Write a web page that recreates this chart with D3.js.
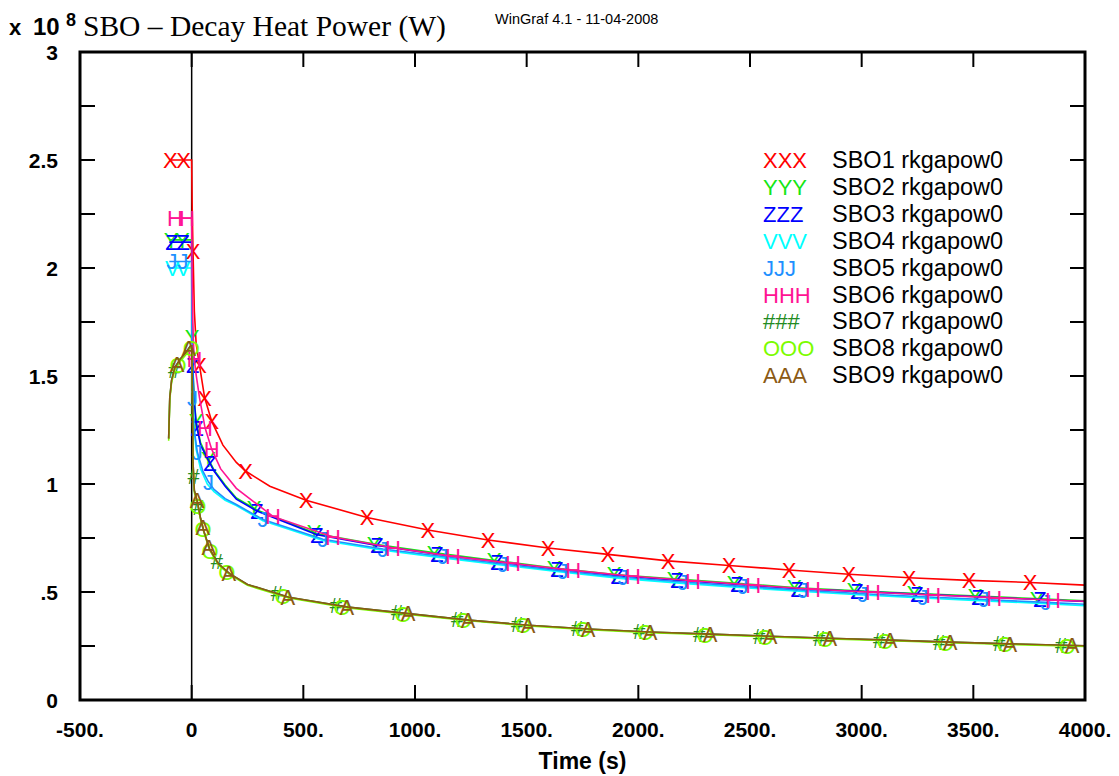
<!DOCTYPE html>
<html>
<head>
<meta charset="utf-8">
<script src="https://cdn.jsdelivr.net/npm/d3@7"></script>
<style>
  body { margin: 0; background: #fff; }
  svg { display: block; }
  .tick-label { font-family: "Liberation Sans", Arial, sans-serif; font-weight: bold; font-size: 21px; }
  .legend text { font-family: "Liberation Sans", Arial, sans-serif; font-size: 23.5px; }
  .legend text.glyph { font-size: 22px; }
  .mark { font-family: "Liberation Sans", Arial, sans-serif; font-size: 22px; }
</style>
</head>
<body>
<div id="chart"></div>
<script>
// series names, glyphs and colours
const seriesNames = ["SBO1 rkgapow0", "SBO2 rkgapow0", "SBO3 rkgapow0", "SBO4 rkgapow0", "SBO5 rkgapow0",
                     "SBO6 rkgapow0", "SBO7 rkgapow0", "SBO8 rkgapow0", "SBO9 rkgapow0"];
const seriesGlyphs = ["X", "Y", "Z", "V", "J", "H", "#", "O", "A"];
const seriesColors = ["#ff0000", "#14e614", "#0000ff", "#00ffff", "#1e90ff", "#ff1493", "#228b22", "#7cfc00", "#8b5a14"];

// [time (s), power (x 1e8 W)]
const sbo1 = [[-100,2.5],[0,2.5],[2,2.3],[6,2.08],[12,1.8],[20,1.65],[35,1.55],[58,1.4],[90,1.29],[140,1.18],[200,1.1],
  [241,1.06],[350,0.99],[512,0.925],[785,0.845],[1058,0.787],[1327,0.741],[1596,0.704],[1864,0.674],[2133,0.644],
  [2406,0.623],[2675,0.602],[2943,0.582],[3212,0.566],[3481,0.554],[3754,0.544],[4000,0.532]];
const sbo2 = [[-100,2.13],[0,2.13],[2,1.68],[5,1.56],[10,1.41],[20,1.29],[40,1.19],[70,1.125],[100,1.065],[150,0.995],
  [200,0.935],[292,0.88],[561,0.77],[830,0.72],[1098,0.68],[1367,0.645],[1636,0.61],[1905,0.58],[2173,0.56],
  [2442,0.54],[2711,0.52],[2979,0.506],[3248,0.493],[3521,0.481],[3798,0.468],[4000,0.459]];
const sbo3 = [[-100,2.12],[0,2.12],[2,1.85],[5,1.55],[10,1.4],[20,1.28],[40,1.18],[70,1.12],[100,1.06],[150,0.99],
  [200,0.93],[292,0.875],[561,0.765],[830,0.715],[1098,0.675],[1367,0.64],[1636,0.605],[1905,0.575],[2173,0.555],
  [2442,0.535],[2711,0.515],[2979,0.503],[3248,0.49],[3521,0.478],[3798,0.465],[4000,0.456]];
const sbo4 = [[-100,2.0],[0,2.0],[2,1.7],[5,1.42],[10,1.27],[20,1.16],[40,1.07],[70,1.0],[100,0.965],[150,0.925],
  [200,0.9],[319,0.83],[588,0.738],[857,0.693],[1125,0.658],[1394,0.624],[1663,0.592],[1932,0.562],[2200,0.54],
  [2469,0.52],[2738,0.502],[3006,0.486],[3275,0.472],[3548,0.459],[3825,0.446],[4000,0.436]];
const sbo5 = [[-100,2.03],[0,2.03],[2,1.6],[4,1.4],[10,1.26],[25,1.15],[50,1.06],[75,1.01],[100,0.975],[150,0.932],
  [200,0.905],[319,0.836],[588,0.744],[857,0.699],[1125,0.664],[1394,0.63],[1663,0.598],[1932,0.568],[2200,0.546],
  [2469,0.526],[2738,0.508],[3006,0.492],[3275,0.478],[3548,0.465],[3825,0.452],[4000,0.443]];
const sbo6 = [[-100,2.23],[0,2.23],[2,2.0],[5,1.75],[10,1.6],[18,1.52],[35,1.4],[60,1.26],[90,1.16],[130,1.07],
  [200,0.98],[364,0.85],[633,0.755],[901,0.705],[1170,0.665],[1439,0.632],[1708,0.6],[1976,0.573],[2245,0.552],
  [2514,0.532],[2782,0.513],[3051,0.499],[3320,0.486],[3593,0.474],[3870,0.462],[4000,0.457]];
const sbo7 = [[-103,1.21],[-98,1.4],[-90,1.48],[-75,1.54],[-50,1.58],[-25,1.61],[-5,1.64],[0,1.64],[3,1.45],[6,1.1],
  [12,0.97],[25,0.92],[40,0.84],[55,0.78],[80,0.7],[120,0.63],[170,0.585],[250,0.535],[435,0.476],[700,0.43],
  [970,0.4],[1240,0.37],[1510,0.346],[1775,0.329],[2050,0.315],[2320,0.305],[2590,0.295],[2855,0.286],
  [3125,0.277],[3395,0.268],[3660,0.26],[4000,0.251]];
const sbo8 = [[-103,1.2],[-98,1.39],[-90,1.47],[-75,1.53],[-50,1.57],[-25,1.6],[-5,1.63],[0,1.63],[3,1.44],[6,1.09],
  [12,0.96],[25,0.915],[40,0.835],[55,0.775],[80,0.695],[120,0.625],[170,0.58],[250,0.531],[435,0.472],[700,0.426],
  [970,0.396],[1240,0.367],[1510,0.343],[1775,0.326],[2050,0.312],[2320,0.302],[2590,0.292],[2855,0.283],
  [3125,0.274],[3395,0.265],[3660,0.257],[4000,0.248]];
const sbo9 = [[-103,1.21],[-98,1.4],[-90,1.48],[-75,1.54],[-50,1.58],[-25,1.61],[-5,1.64],[0,1.64],[3,1.45],[6,1.1],
  [12,0.97],[25,0.92],[40,0.84],[55,0.78],[80,0.7],[120,0.63],[170,0.585],[250,0.535],[435,0.476],[700,0.43],
  [970,0.4],[1240,0.37],[1510,0.346],[1775,0.329],[2050,0.315],[2320,0.305],[2590,0.295],[2855,0.286],
  [3125,0.277],[3395,0.268],[3660,0.26],[4000,0.251]];

// times where each series draws its glyph
const sbo1Marks = [-95,-36,6,35,58,90,241,512,785,1058,1327,1596,1864,2133,2406,2675,2943,3212,3481,3754];
const sbo2Marks = [-92,-42,2,20,75,279,548,817,1085,1354,1623,1892,2160,2429,2698,2966,3235,3508,3785];
const sbo3Marks = [-88,-38,5,24,82,292,561,830,1098,1367,1636,1905,2173,2442,2711,2979,3248,3521,3798];
const sbo4Marks = [-86,-38];
const sbo5Marks = [-88,-39,4,25,75,319,588,857,1125,1394,1663,1932,2200,2469,2738,3006,3275,3548,3825];
const sbo6Marks = [-75,-21,12,60,90,364,633,901,1170,1439,1708,1976,2245,2514,2782,3051,3320,3593,3857];
const sbo7Marks = [-78,9,30,113,382,646,920,1189,1457,1726,2004,2272,2541,2809,3078,3347,3615,3893];
const sbo8Marks = [-61,-2,28,51,82,157,409,673,947,1216,1484,1753,2031,2299,2568,2836,3105,3374,3642,3920];
const sbo9Marks = [-65,-13,24,50,77,167,431,695,969,1238,1506,1775,2053,2321,2590,2858,3127,3396,3664,3942];

const seriesData = [sbo1, sbo2, sbo3, sbo4, sbo5, sbo6, sbo7, sbo8, sbo9];
const seriesMarks = [sbo1Marks, sbo2Marks, sbo3Marks, sbo4Marks, sbo5Marks, sbo6Marks, sbo7Marks, sbo8Marks, sbo9Marks];

// axes
const xTicks = [-500, 0, 500, 1000, 1500, 2000, 2500, 3000, 3500, 4000];
const xTickLabels = ["-500.", "0", "500.", "1000.", "1500.", "2000.", "2500.", "3000.", "3500.", "4000."];
const yTicks = [0, 0.5, 1, 1.5, 2, 2.5, 3];
const yTickLabels = ["0", ".5", "1", "1.5", "2", "2.5", "3"];
const yMinorTicks = d3.range(0.25, 3, 0.25);

const width = 1119, height = 776;
const margin = { top: 52, right: 34, bottom: 76, left: 80 };
const innerW = width - margin.left - margin.right;
const innerH = height - margin.top - margin.bottom;

const svg = d3.select("#chart").append("svg")
  .attr("width", width)
  .attr("height", height);

const xScale = d3.scaleLinear().domain([-500, 4000]).range([0, innerW]);
const yScale = d3.scaleLinear().domain([0, 3]).range([innerH, 0]);

const g = svg.append("g").attr("transform", `translate(${margin.left},${margin.top})`);

// tick marks (inward on all four sides)
const tickLen = 15;
const axisG = g.append("g").attr("stroke", "#000").attr("stroke-width", 2);
xTicks.slice(1, -1).forEach(t => {
  axisG.append("line").attr("x1", xScale(t)).attr("x2", xScale(t)).attr("y1", innerH).attr("y2", innerH - tickLen);
  axisG.append("line").attr("x1", xScale(t)).attr("x2", xScale(t)).attr("y1", 0).attr("y2", tickLen);
});
yMinorTicks.forEach(v => {
  axisG.append("line").attr("x1", 0).attr("x2", tickLen).attr("y1", yScale(v)).attr("y2", yScale(v));
  axisG.append("line").attr("x1", innerW).attr("x2", innerW - tickLen).attr("y1", yScale(v)).attr("y2", yScale(v));
});

// t = 0 line
g.append("line")
  .attr("x1", xScale(0)).attr("x2", xScale(0))
  .attr("y1", 0).attr("y2", innerH)
  .attr("stroke", "#000").attr("stroke-width", 1.5);

// tick labels
g.selectAll(".xlab").data(xTicks).join("text")
  .attr("class", "tick-label xlab")
  .attr("x", d => xScale(d))
  .attr("y", innerH + 37)
  .attr("text-anchor", "middle")
  .text((d, i) => xTickLabels[i]);

g.selectAll(".ylab").data(yTicks).join("text")
  .attr("class", "tick-label ylab")
  .attr("x", -22)
  .attr("y", d => yScale(d))
  .attr("dy", "0.36em")
  .attr("text-anchor", "end")
  .text((d, i) => yTickLabels[i]);

// curves and glyph markers
const line = d3.line().x(d => xScale(d[0])).y(d => yScale(d[1]));
const plot = g.append("g");

seriesData.forEach((data, i) => {
  const sg = plot.append("g");
  sg.append("path")
    .datum(data)
    .attr("fill", "none")
    .attr("stroke", seriesColors[i])
    .attr("stroke-width", 1.6)
    .attr("d", line);

  const along = d3.scaleLinear().domain(data.map(d => d[0])).range(data.map(d => d[1]));
  sg.selectAll("text").data(seriesMarks[i]).join("text")
    .attr("class", "mark")
    .attr("x", d => xScale(d))
    .attr("y", d => yScale(along(d)))
    .attr("dy", "0.36em")
    .attr("text-anchor", "middle")
    .attr("fill", seriesColors[i])
    .text(seriesGlyphs[i]);
});

// frame
g.append("rect")
  .attr("width", innerW).attr("height", innerH)
  .attr("fill", "none").attr("stroke", "#000").attr("stroke-width", 3);

// legend
const legend = svg.append("g").attr("class", "legend");
seriesNames.forEach((name, i) => {
  const y = 168 + i * 26.9;
  legend.append("text").attr("class", "glyph").attr("x", 763).attr("y", y).attr("fill", seriesColors[i])
    .text(seriesGlyphs[i].repeat(3));
  legend.append("text").attr("x", 832).attr("y", y).attr("fill", "#000").text(name);
});

// header
const sans = "Liberation Sans, Arial, sans-serif";
svg.append("text")
  .attr("x", 9).attr("y", 35)
  .attr("font-family", sans).attr("font-weight", "bold").attr("font-size", 22)
  .text("x");
svg.append("text")
  .attr("x", 33).attr("y", 35)
  .attr("font-family", sans).attr("font-weight", "bold").attr("font-size", 24)
  .text("10");
svg.append("text")
  .attr("x", 66).attr("y", 26)
  .attr("font-family", sans).attr("font-weight", "bold").attr("font-size", 18)
  .text("8");
svg.append("text")
  .attr("x", 83).attr("y", 36)
  .attr("font-family", "Liberation Serif, Times New Roman, serif")
  .attr("font-size", 29.5)
  .text("SBO \u2013 Decay Heat Power (W)");
svg.append("text")
  .attr("x", 495).attr("y", 24)
  .attr("font-family", sans)
  .attr("font-size", 14.5)
  .text("WinGraf 4.1 - 11-04-2008");

// x axis title
svg.append("text")
  .attr("x", margin.left + xScale(1750)).attr("y", 769)
  .attr("text-anchor", "middle")
  .attr("font-family", sans).attr("font-weight", "bold").attr("font-size", 23)
  .text("Time (s)");
</script>
</body>
</html>
